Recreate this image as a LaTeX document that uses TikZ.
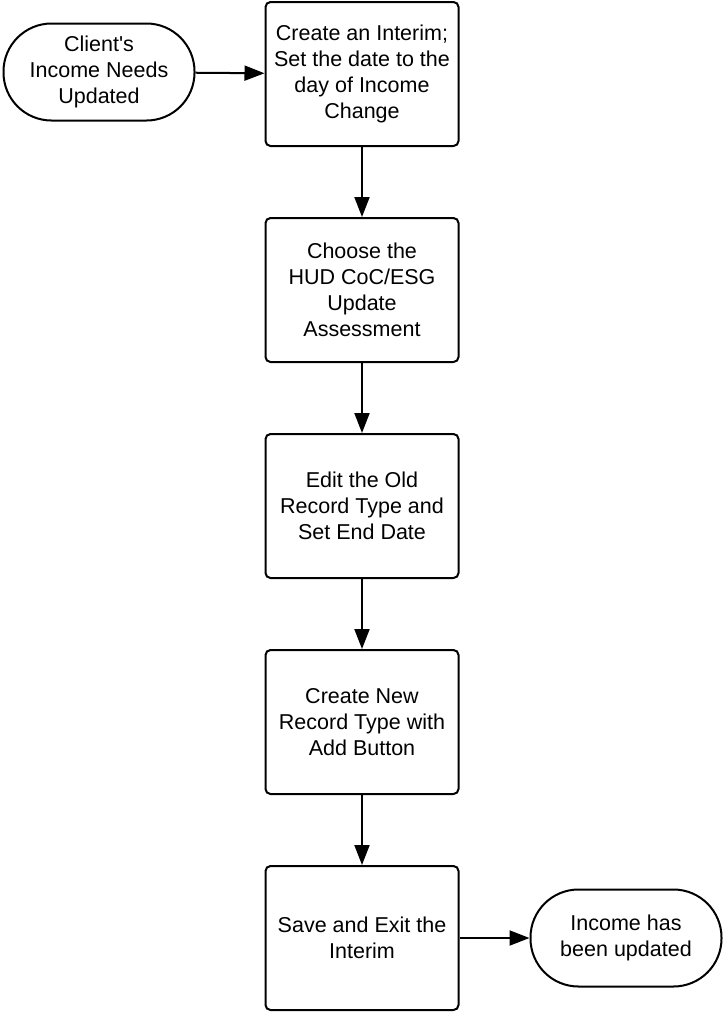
\documentclass[tikz,border=0pt]{standalone}
\usepackage{fontspec}
\setmainfont{Liberation Sans}
\usetikzlibrary{arrows.meta}

\begin{document}
\begin{tikzpicture}[x=1pt,y=-1pt,
    every node/.style={font=\fontsize{21.5}{26}\selectfont, align=center},
    stepbox/.style={draw, line width=2pt, rounded corners=5pt,
      minimum width=193pt, minimum height=144pt, inner sep=0pt},
    termbox/.style={draw, line width=2pt, rounded corners=48pt,
      minimum width=191pt, minimum height=97pt, inner sep=0pt},
    flow/.style={line width=2pt, -{Triangle[length=20pt,width=15pt]}}]
  \useasboundingbox (0,0) rectangle (723,1013);
  \node (cu) [termbox] at (99,72) {Client\textquotesingle s\\Income Needs\\Updated};
  \node (ci) [stepbox] at (362,74) {Create an Interim;\\Set the date to the\\day of Income\\Change};
  \node (ch) [stepbox] at (362,290) {Choose the\\HUD CoC/ESG\\Update\\Assessment};
  \node (ed) [stepbox] at (362,506) {Edit the Old\\Record Type and\\Set End Date};
  \node (cn) [stepbox] at (362,722) {Create New\\Record Type with\\Add Button};
  \node (se) [stepbox] at (362,938) {Save and Exit the\\Interim};
  \node (iu) [termbox] at (626,938) {Income has\\been updated};

  \draw[flow] (cu) -- (ci);
  \draw[flow] (ci) -- (ch);
  \draw[flow] (ch) -- (ed);
  \draw[flow] (ed) -- (cn);
  \draw[flow] (cn) -- (se);
  \draw[flow] (se) -- (iu);
\end{tikzpicture}
\end{document}
